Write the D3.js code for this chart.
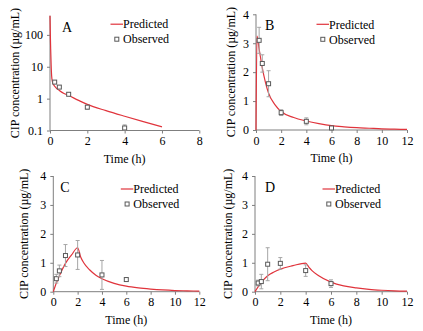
<!DOCTYPE html>
<html lang="en">
<head>
<meta charset="UTF-8">
<title>CIP concentration</title>
<script src="https://d3js.org/d3.v7.min.js"></script>
<style>
body { margin: 0; background: #fff; }
svg text { font-family: "Liberation Serif", "Times New Roman", Times, serif; font-weight: normal; fill: #000; }
</style>
</head>
<body>
<svg id="chart" width="423" height="331"></svg>
<script>
// observed sampling times (h)
const obsTimeA = [0.25, 0.5, 1, 2, 4];
const obsTime = [0.25, 0.5, 1, 2, 4, 6];

// observed means and SDs
const obsA = [3.3, 2.3, 1.37, 0.54, 0.12];
const errA = [0.3, 0.2, 0.1, 0.07, 0.03];
const obsB = [3.1, 2.3, 1.6, 0.6, 0.3, 0.07];
const errB = [0.45, 0.3, 0.45, 0.1, 0.12, 0.03];
const obsC = [0.45, 0.72, 1.25, 1.27, 0.58, 0.42];
const errC = [0.15, 0.2, 0.38, 0.5, 0.5, 0.05];
const obsD = [0.3, 0.35, 0.95, 0.98, 0.73, 0.28];
const errD = [0.1, 0.25, 0.57, 0.2, 0.2, 0.13];

// predicted curves
const predTimeA = [0, 0.01, 0.02, 0.04, 0.06, 0.09, 0.13, 0.2, 0.3, 0.5, 0.75, 1, 1.5, 2, 3, 4, 5, 6];
const predA = [400, 200, 90, 30, 12, 5, 3.4, 2.7, 2.25, 1.8, 1.45, 1.25, 0.9, 0.66, 0.42, 0.28, 0.19, 0.13];
const predTimeB = [0, 0.08, 0.25, 0.5, 0.75, 1, 1.5, 2, 3, 4, 5, 6, 7, 8, 9, 10, 11, 12];
const predB = [0, 3.25, 2.8, 2.15, 1.65, 1.27, 0.88, 0.64, 0.43, 0.31, 0.22, 0.15, 0.11, 0.08, 0.06, 0.04, 0.03, 0.02];
const predTimeC = [0, 0.25, 0.5, 1, 1.5, 2, 2.25, 2.5, 3, 3.5, 4, 5, 6, 7, 8, 9, 10, 11, 12];
const predC = [0, 0.3, 0.55, 0.98, 1.27, 1.52, 1.2, 1.0, 0.75, 0.57, 0.45, 0.29, 0.19, 0.13, 0.09, 0.06, 0.04, 0.03, 0.02];
const predTimeD = [0, 0.5, 1, 1.5, 2, 3, 4, 4.25, 4.5, 5, 6, 7, 8, 9, 10, 11, 12];
const predD = [0, 0.32, 0.55, 0.68, 0.78, 0.9, 0.99, 0.85, 0.73, 0.56, 0.33, 0.2, 0.13, 0.08, 0.05, 0.03, 0.02];

// tick labels
const xTicksA = [0, 2, 4, 6, 8];
const xTicks = [0, 2, 4, 6, 8, 10, 12];
const yTicksA = [0.1, 1, 10, 100];
const yTicks = [0, 1, 2, 3, 4];

const panels = [
  {letter: 'A', log: true, box: [50, 199.3, 15.7, 130.5], xDom: [0, 8], yDom: [0.1, 400], xt: xTicksA, yt: yTicksA,
   ot: obsTimeA, ov: obsA, oe: errA, pt: predTimeA, pv: predA, ylx: 15, lt: 12},
  {letter: 'B', log: false, box: [256, 407, 14.3, 130], xDom: [0, 12], yDom: [0, 4], xt: xTicks, yt: yTicks,
   ot: obsTime, ov: obsB, oe: errB, pt: predTimeB, pv: predB, ylx: 231, lt: 9},
  {letter: 'C', log: false, box: [53.3, 199.3, 176, 291.7], xDom: [0, 12], yDom: [0, 4], xt: xTicks, yt: yTicks,
   ot: obsTime, ov: obsC, oe: errC, pt: predTimeC, pv: predC, ylx: 24, lt: 7},
  {letter: 'D', log: false, box: [255, 407, 176, 291.7], xDom: [0, 12], yDom: [0, 4], xt: xTicks, yt: yTicks,
   ot: obsTime, ov: obsD, oe: errD, pt: predTimeD, pv: predD, ylx: 228, lt: 10}
];

const svg = d3.select('#chart');
const red = '#e0343c';
const axisCol = '#7f7f7f';
const markCol = '#595959';
const errCol = '#a6a6a6';
const serif = '"Liberation Serif", "Times New Roman", serif';

panels.forEach(p => {
  const [l, r, t, b] = p.box;
  const x = d3.scaleLinear().domain(p.xDom).range([l, r]);
  const y = (p.log ? d3.scaleLog() : d3.scaleLinear()).domain(p.yDom).range([b, t]);
  const g = svg.append('g');

  // y axis
  const ya = g.append('g').attr('transform', `translate(${l},0)`)
    .call(d3.axisLeft(y).tickValues(p.yt).tickSize(3).tickPadding(4)
      .tickFormat(d => p.log ? (d < 1 ? '0.1' : d3.format('d')(d)) : d));
  ya.attr('font-family', serif).attr('font-size', 12);
  ya.select('.domain').remove();
  ya.append('line').attr('x1', 0).attr('x2', 0).attr('y1', t).attr('y2', b).attr('stroke', axisCol);
  ya.selectAll('.tick line').attr('stroke', axisCol);

  // x axis
  const xa = g.append('g').attr('transform', `translate(0,${b})`)
    .call(d3.axisBottom(x).tickValues(p.xt).tickSize(3).tickPadding(3));
  xa.attr('font-family', serif).attr('font-size', 12);
  xa.select('.domain').remove();
  xa.append('line').attr('x1', l).attr('x2', r).attr('y1', 0).attr('y2', 0).attr('stroke', axisCol);
  xa.selectAll('.tick line').attr('stroke', axisCol);

  // titles
  g.append('text').attr('x', (l + r) / 2).attr('y', b + 32).attr('text-anchor', 'middle')
    .attr('font-size', 12).text('Time (h)');
  g.append('text').attr('transform', `translate(${p.ylx},${(t + b) / 2}) rotate(-90)`)
    .attr('text-anchor', 'middle').attr('dy', '0.35em').attr('font-size', 12)
    .text('CIP concentration (µg/mL)');

  // panel letter
  g.append('text').attr('x', l + p.lt).attr('y', t + 16).attr('font-size', 14).text(p.letter);

  // predicted curve
  const pts = p.pt.map((d, i) => [d, p.pv[i]]);
  g.append('path').datum(pts)
    .attr('d', d3.line().x(d => x(d[0])).y(d => y(d[1])).curve(d3.curveMonotoneX))
    .attr('fill', 'none').attr('stroke', red).attr('stroke-width', 1.2);

  // observed with error bars
  const obs = p.ot.map((d, i) => ({t: d, v: p.ov[i], e: p.oe[i]}));
  const lo = d => y(Math.max(d.v - d.e, p.yDom[0]));
  const hi = d => y(d.v + d.e);
  const og = g.selectAll('.obs').data(obs).enter().append('g');
  og.append('line').attr('x1', d => x(d.t)).attr('x2', d => x(d.t))
    .attr('y1', lo).attr('y2', hi).attr('stroke', errCol).attr('stroke-width', 1);
  [lo, hi].forEach(f => {
    og.append('line').attr('x1', d => x(d.t) - 2).attr('x2', d => x(d.t) + 2)
      .attr('y1', f).attr('y2', f).attr('stroke', errCol).attr('stroke-width', 1);
  });
  og.append('rect').attr('x', d => x(d.t) - 2).attr('y', d => y(d.v) - 2)
    .attr('width', 4).attr('height', 4).attr('fill', '#fff')
    .attr('stroke', markCol).attr('stroke-width', 1);

  // legend
  const lx = l + (p.letter === 'A' || p.letter === 'B' ? 60.5 : 67.5);
  const ly = t + (p.letter === 'A' ? 8.5 : (p.letter === 'B' ? 10 : 13));
  g.append('line').attr('x1', lx).attr('x2', lx + 12.5).attr('y1', ly).attr('y2', ly)
    .attr('stroke', red).attr('stroke-width', 1.2);
  g.append('text').attr('x', lx + 12.5).attr('y', ly).attr('dy', '0.35em').attr('font-size', 12).text('Predicted');
  g.append('rect').attr('x', lx + 4.3).attr('y', ly + 13).attr('width', 4).attr('height', 4)
    .attr('fill', '#fff').attr('stroke', markCol).attr('stroke-width', 1);
  g.append('text').attr('x', lx + 12.5).attr('y', ly + 15).attr('dy', '0.35em').attr('font-size', 12).text('Observed');
});
</script>
</body>
</html>
